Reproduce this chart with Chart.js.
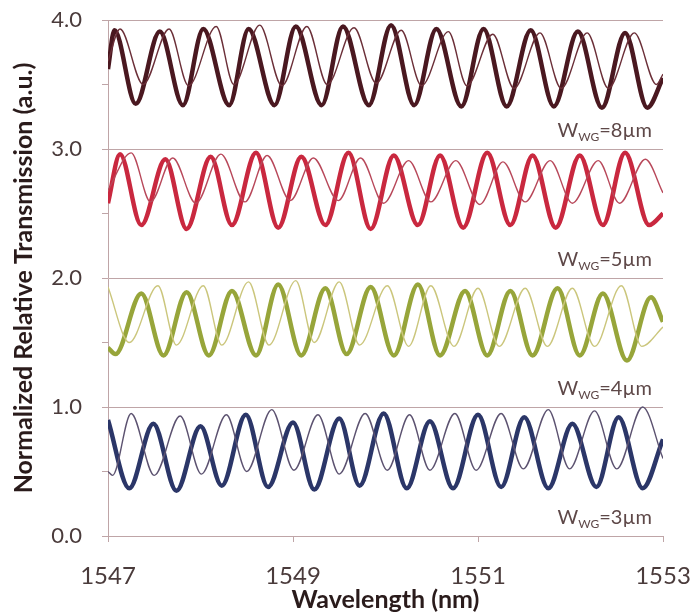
<!DOCTYPE html>
<html>
<head>
<meta charset="utf-8">
<script src="https://cdn.jsdelivr.net/npm/chart.js@4.4.1/dist/chart.umd.min.js"></script>
<style>
  html, body { margin: 0; padding: 0; background: #fff; }
  #wrap { width: 692px; height: 615px; }
</style>
</head>
<body>
<div id="wrap"><canvas id="chart" width="692" height="615"></canvas></div>
<script>
// values: wavelength (nm) at each peak / trough, and the transmission there

const wgWidths = ['8µm', '5µm', '4µm', '3µm'];
const groupBase = [3, 2, 1, 0];
const xTicks = [1547, 1549, 1551, 1553];

// W_WG = 8um
const wl8Thick = [1547.00, 1547.07, 1547.30, 1547.56, 1547.81, 1548.03, 1548.31, 1548.52, 1548.80, 1549.03, 1549.31, 1549.54, 1549.82,
  1550.06, 1550.31, 1550.55, 1550.82, 1551.06, 1551.31, 1551.57, 1551.82, 1552.08, 1552.34, 1552.59, 1552.83, 1553.00];
const tr8Thick = [3.62, 3.92, 3.35, 3.91, 3.34, 3.93, 3.34, 3.93, 3.34, 3.95, 3.34, 3.95, 3.34,
  3.96, 3.34, 3.93, 3.33, 3.93, 3.33, 3.92, 3.33, 3.91, 3.32, 3.90, 3.32, 3.55];
const wl8Thin = [1547.00, 1547.13, 1547.38, 1547.66, 1547.87, 1548.17, 1548.36, 1548.64, 1548.88, 1549.15, 1549.37, 1549.66, 1549.90,
  1550.17, 1550.39, 1550.68, 1550.88, 1551.16, 1551.39, 1551.67, 1551.90, 1552.18, 1552.41, 1552.69, 1552.93, 1553.00];
const tr8Thin = [3.68, 3.93, 3.50, 3.93, 3.49, 3.95, 3.50, 3.96, 3.49, 3.95, 3.50, 3.94, 3.51,
  3.92, 3.49, 3.91, 3.49, 3.89, 3.47, 3.90, 3.47, 3.90, 3.47, 3.90, 3.50, 3.58];

// W_WG = 5um
const wl5Thick = [1547.00, 1547.13, 1547.36, 1547.62, 1547.85, 1548.11, 1548.34, 1548.60, 1548.84, 1549.09, 1549.35, 1549.60, 1549.84,
  1550.09, 1550.35, 1550.59, 1550.84, 1551.10, 1551.35, 1551.59, 1551.84, 1552.10, 1552.35, 1552.59, 1552.85, 1553.00];
const tr5Thick = [2.58, 2.96, 2.41, 2.92, 2.38, 2.94, 2.41, 2.97, 2.39, 2.94, 2.41, 2.97, 2.38,
  2.95, 2.41, 2.95, 2.39, 2.97, 2.41, 2.95, 2.39, 2.95, 2.41, 2.97, 2.41, 2.50];
const wl5Thin = [1547.00, 1547.25, 1547.46, 1547.70, 1547.95, 1548.22, 1548.48, 1548.72, 1548.97, 1549.22, 1549.49, 1549.73, 1549.98,
  1550.25, 1550.49, 1550.76, 1551.02, 1551.27, 1551.51, 1551.78, 1552.02, 1552.30, 1552.53, 1552.81, 1553.00];
const tr5Thin = [2.68, 2.97, 2.59, 2.93, 2.58, 2.96, 2.59, 2.95, 2.60, 2.93, 2.60, 2.93, 2.58,
  2.91, 2.59, 2.91, 2.57, 2.90, 2.59, 2.91, 2.58, 2.91, 2.58, 2.92, 2.66];

// W_WG = 4um
const wl4Thick = [1547.00, 1547.08, 1547.36, 1547.60, 1547.85, 1548.09, 1548.34, 1548.60, 1548.84, 1549.09, 1549.35, 1549.58, 1549.84,
  1550.09, 1550.35, 1550.59, 1550.86, 1551.10, 1551.35, 1551.59, 1551.86, 1552.10, 1552.35, 1552.61, 1552.87, 1553.00];
const tr4Thick = [1.46, 1.41, 1.88, 1.40, 1.89, 1.40, 1.90, 1.40, 1.95, 1.40, 1.92, 1.41, 1.93,
  1.40, 1.95, 1.40, 1.90, 1.40, 1.90, 1.40, 1.92, 1.40, 1.88, 1.36, 1.85, 1.66];
const wl4Thin = [1547.00, 1547.23, 1547.54, 1547.74, 1548.03, 1548.23, 1548.52, 1548.74, 1549.03, 1549.23, 1549.50, 1549.72, 1550.02,
  1550.25, 1550.49, 1550.74, 1551.00, 1551.23, 1551.51, 1551.75, 1552.02, 1552.26, 1552.55, 1552.77, 1553.00];
const tr4Thin = [1.93, 1.50, 1.94, 1.48, 1.94, 1.48, 1.97, 1.48, 1.98, 1.50, 1.97, 1.48, 1.94,
  1.47, 1.94, 1.47, 1.92, 1.47, 1.92, 1.47, 1.92, 1.47, 1.94, 1.47, 1.62];

// W_WG = 3um
const wl3Thick = [1547.00, 1547.23, 1547.49, 1547.74, 1548.00, 1548.23, 1548.49, 1548.73, 1549.00, 1549.23, 1549.50, 1549.72, 1549.98,
  1550.23, 1550.48, 1550.73, 1551.00, 1551.25, 1551.50, 1551.76, 1552.02, 1552.28, 1552.52, 1552.78, 1553.00];
const tr3Thick = [0.90, 0.37, 0.87, 0.35, 0.85, 0.39, 0.94, 0.38, 0.88, 0.36, 0.91, 0.39, 0.95,
  0.37, 0.89, 0.37, 0.94, 0.38, 0.92, 0.37, 0.87, 0.38, 0.92, 0.37, 0.75];
const wl3Thin = [1547.00, 1547.05, 1547.25, 1547.50, 1547.78, 1548.01, 1548.28, 1548.50, 1548.77, 1549.01, 1549.27, 1549.50, 1549.78,
  1550.02, 1550.26, 1550.48, 1550.75, 1550.98, 1551.25, 1551.49, 1551.76, 1551.99, 1552.26, 1552.50, 1552.78, 1553.00];
const tr3Thin = [0.50, 0.47, 0.95, 0.47, 0.93, 0.48, 0.94, 0.50, 0.98, 0.51, 0.94, 0.48, 0.95,
  0.51, 0.94, 0.51, 0.95, 0.51, 0.95, 0.52, 0.98, 0.52, 0.97, 0.52, 1.00, 0.60];

const GRID = '#bfa5a7';
const FONT = 'Lato, "Open Sans", sans-serif';

const pts = (xs, ys) => xs.map((x, i) => ({ x, y: ys[i] }));

function trace(xs, ys, color, width, order) {
  return {
    data: pts(xs, ys),
    borderColor: color,
    borderWidth: width,
    pointRadius: 0,
    cubicInterpolationMode: 'monotone',
    fill: false,
    order
  };
}

// W_WG labels sit under each trace pair, right aligned
const wgLabels = {
  id: 'wgLabels',
  afterDatasetsDraw(chart) {
    const { ctx, scales: { x, y } } = chart;
    ctx.save();
    ctx.fillStyle = '#5e4848';
    ctx.textBaseline = 'alphabetic';
    ctx.textAlign = 'left';
    wgWidths.forEach((w, i) => {
      const base = y.getPixelForValue(groupBase[i] + 0.09);
      const big = '20px ' + FONT, small = '12px ' + FONT;
      ctx.font = big;
      const wW = ctx.measureText('W').width;
      const restW = ctx.measureText('=' + w).width;
      ctx.font = small;
      const subW = ctx.measureText('WG').width;
      let left = x.getPixelForValue(1552.88) - (wW + subW + restW);
      ctx.font = big;
      ctx.fillText('W', left, base);
      left += wW;
      ctx.font = small;
      ctx.fillText('WG', left, base + 4);
      left += subW;
      ctx.font = big;
      ctx.fillText('=' + w, left, base);
    });
    ctx.restore();
  }
};

new Chart(document.getElementById('chart'), {
  type: 'line',
  data: {
    datasets: [
      trace(wl8Thick, tr8Thick, '#4a1820', 4.5, 2),
      trace(wl8Thin, tr8Thin, '#6b2f38', 1.4, 1),
      trace(wl5Thick, tr5Thick, '#c9283f', 4.5, 2),
      trace(wl5Thin, tr5Thin, '#b8485a', 1.4, 1),
      trace(wl4Thick, tr4Thick, '#97a53a', 4.5, 2),
      trace(wl4Thin, tr4Thin, '#cbc67c', 1.4, 1),
      trace(wl3Thick, tr3Thick, '#2b3668', 4.5, 2),
      trace(wl3Thin, tr3Thin, '#5c5270', 1.4, 1)
    ]
  },
  options: {
    responsive: false,
    animation: false,
    devicePixelRatio: 1,
    layout: { padding: { left: 9, right: 29, top: 20, bottom: 0 } },
    plugins: { legend: { display: false }, tooltip: { enabled: false } },
    scales: {
      x: {
        type: 'linear',
        min: 1547,
        max: 1553,
        afterBuildTicks: s => { s.ticks = xTicks.map(v => ({ value: v })); },
        afterFit: s => { s.height = 79; s.paddingLeft = 0; s.paddingRight = 0; },
        border: { color: GRID, width: 1 },
        grid: { drawOnChartArea: false, color: GRID, tickLength: 6 },
        ticks: {
          color: '#4a3b3b',
          padding: 20,
          maxRotation: 0,
          font: { family: FONT, size: 24 },
          callback: v => String(v)
        },
        title: {
          display: true,
          text: 'Wavelength (nm)',
          color: '#2a1b1b',
          padding: 0,
          font: { family: FONT, size: 25, weight: 'bold' }
        }
      },
      y: {
        min: 0,
        max: 4,
        afterFit: s => { s.width = 99; s.paddingTop = 0; s.paddingBottom = 0; },
        border: { color: GRID, width: 1 },
        grid: {
          color: c => (c.tick && c.tick.value % 1 === 0 ? GRID : 'rgba(0,0,0,0)'),
          tickColor: GRID,
          tickLength: 6
        },
        ticks: {
          stepSize: 0.5,
          color: '#4a3b3b',
          padding: 20,
          font: { family: FONT, size: 22 },
          callback: v => (v % 1 === 0 ? v.toFixed(1) : '')
        },
        title: {
          display: true,
          text: 'Normalized Relative Transmission (a.u.)',
          color: '#2a1b1b',
          padding: 0,
          font: { family: FONT, size: 25, weight: 'bold' }
        }
      }
    }
  },
  plugins: [wgLabels]
});
</script>
</body>
</html>
